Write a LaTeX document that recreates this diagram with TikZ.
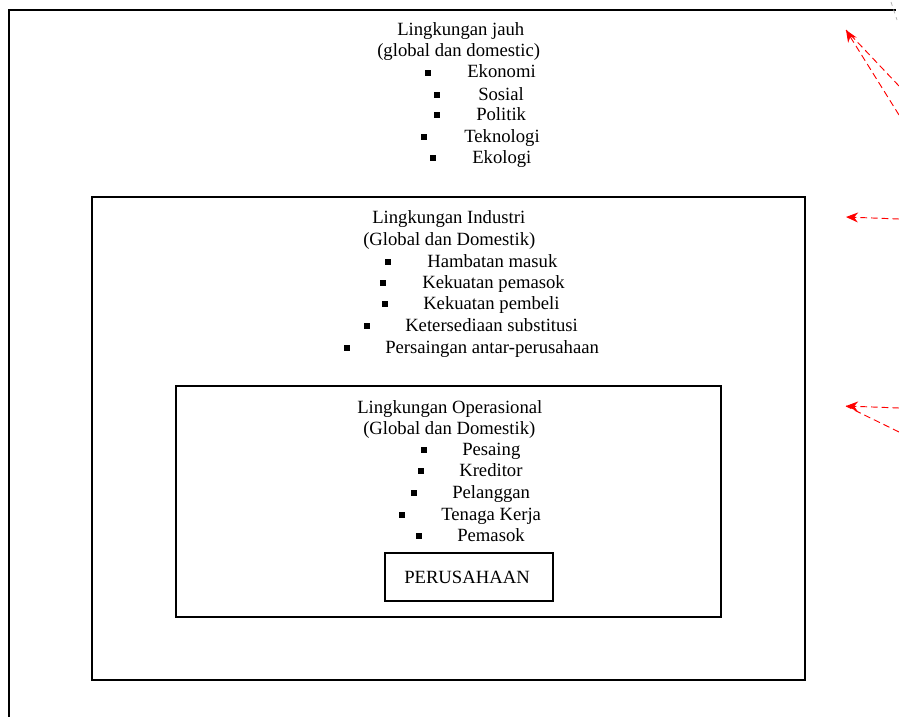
\documentclass[tikz,border=0pt]{standalone}
\usepackage{fontspec}
\setmainfont{Liberation Serif}
\usetikzlibrary{arrows.meta}
\begin{document}
\begin{tikzpicture}[x=0.75pt,y=-0.75pt,
  frame/.style={draw=black,line width=1.3pt},
  boxnode/.style={draw=black,line width=1.3pt,inner sep=0pt,font=\fontsize{14}{16}\selectfont},
  bul/.style={rectangle,fill=black,inner sep=0pt,minimum size=4.4pt},
  txt/.style={anchor=base west,inner sep=0pt,font=\fontsize{14}{16}\selectfont},
  redarrow/.style={draw=red,dashed,dash pattern=on 5pt off 3pt,line width=0.7pt},
  redtip/.style={-{Stealth[length=9pt,width=7.5pt]}}]
\useasboundingbox (0,0) rectangle (899,717);
% outer frame (top and left sides visible)
\coordinate (o1) at (9,717);
\coordinate (o2) at (9,10);
\coordinate (o3) at (896,10);
\draw[frame] (o1) -- (o2) -- (o3);
% boxes
\node[boxnode,minimum width=534.75pt,minimum height=362.25pt] (mid) at (448.5,438.5) {};
\node[boxnode,minimum width=408.75pt,minimum height=173.25pt] (inn) at (448.5,501.5) {};
\node[boxnode,minimum width=126pt,minimum height=36pt] (per) at (469,577) {\hspace*{-3pt}PERUSAHAAN};
% outer texts
\node[txt] (h1a) at (397,36) {Lingkungan jauh};
\node[txt] (h1b) at (377,57) {(global dan domestic)};
\foreach \bx/\tx/\y/\t [count=\i] in {428/467/72/Ekonomi,437/478/94/Sosial,437/476/114/Politik,424/464/136/Teknologi,433/472/157/Ekologi}{
  \node[bul] (ob\i) at (\bx,\y+1) {};
  \node[txt] (ot\i) at (\tx,\y+6) {\t};
}
% middle texts
\node[txt] (h2a) at (372,223) {Lingkungan Industri};
\node[txt] (h2b) at (363,245) {(Global dan Domestik)};
\foreach \bx/\tx/\y/\t [count=\i] in {388/427/261/Hambatan masuk,383/422/282/Kekuatan pemasok,385/423/303/Kekuatan pembeli,367/405/325/Ketersediaan substitusi,347/385/347/Persaingan antar-perusahaan}{
  \node[bul] (mb\i) at (\bx,\y+1) {};
  \node[txt] (mt\i) at (\tx,\y+6) {\t};
}
% inner texts
\node[txt] (h3a) at (357,413) {Lingkungan Operasional};
\node[txt] (h3b) at (363,434) {(Global dan Domestik)};
\foreach \bx/\tx/\y/\t [count=\i] in {424/462/449/Pesaing,421/459/470/Kreditor,414/452/492/Pelanggan,402/441/514/Tenaga Kerja,419/457/535/Pemasok}{
  \node[bul] (ib\i) at (\bx,\y+1) {};
  \node[txt] (it\i) at (\tx,\y+6) {\t};
}
% red dashed arrows
\coordinate (t1) at (846,30);
\coordinate (s1a) at (899,115);
\coordinate (s1b) at (899,86);
\coordinate (t2) at (846,217);
\coordinate (s2) at (899,219);
\coordinate (t3) at (846,406);
\coordinate (s3a) at (899,408);
\coordinate (s3b) at (899,432);
\draw[redarrow] (s1b) -- (t1);
\draw[redarrow,redtip] (s1a) -- (t1);
\draw[redarrow,redtip] (s2) -- (t2);
\draw[redarrow] (s3b) -- (t3);
\draw[redarrow,redtip] (s3a) -- (t3);
% faint grey mark top right
\coordinate (g1) at (891,2);
\coordinate (g2) at (897,20);
\draw[gray!60,dashed,line width=0.6pt] (g1) -- (g2);
\end{tikzpicture}
\end{document}
